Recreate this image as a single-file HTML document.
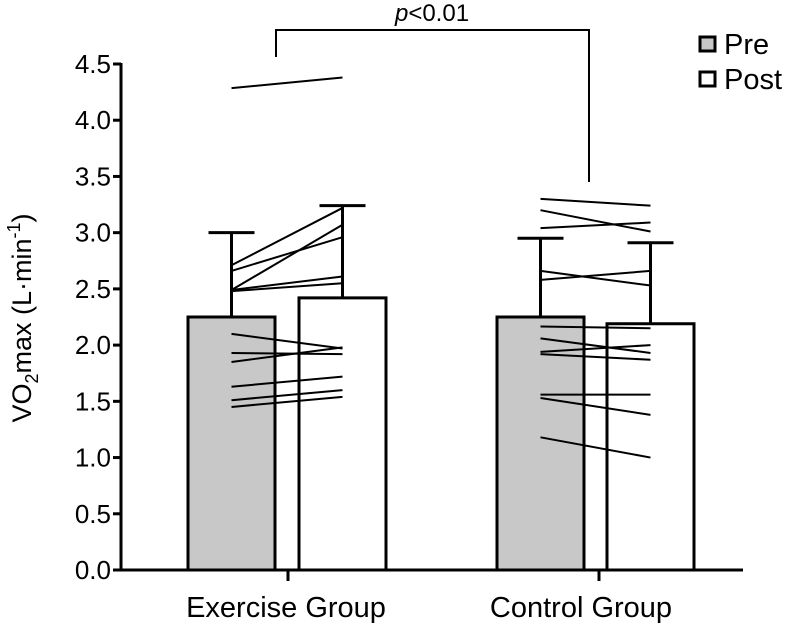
<!DOCTYPE html>
<html><head><meta charset="utf-8"><style>
body{margin:0;background:#fff}
svg{font-family:"Liberation Sans",Arial,sans-serif;display:block}
</style></head><body>
<svg id="chart" width="787" height="633" viewBox="0 0 787 633">
<g id="g"></g>
</svg>
<script>
const groups=["Exercise Group","Control Group"];
const preMeans=[2.25,2.25];
const postMeans=[2.42,2.19];
const preSD=[3.00,2.95];
const postSD=[3.24,2.91];
const exPre=[4.285,2.71,2.66,2.49,2.49,2.48,2.10,1.93,1.85,1.63,1.51,1.45];
const exPost=[4.38,3.22,2.96,3.07,2.61,2.55,1.97,1.92,1.98,1.72,1.60,1.54];
const ctPre=[3.30,3.20,3.04,2.66,2.58,2.165,2.06,1.94,1.92,1.56,1.53,1.18];
const ctPost=[3.24,3.01,3.09,2.53,2.66,2.15,1.93,2.00,1.87,1.56,1.38,1.00];
const yTicks=["0.0","0.5","1.0","1.5","2.0","2.5","3.0","3.5","4.0","4.5"];
const NS="http://www.w3.org/2000/svg";
const g=document.getElementById('g');
const y0=570,y1=64,ymax=4.5;
function Y(v){return y0-(v/ymax)*(y0-y1);}
const barW=87;
const preX=[188,497],postX=[299,607];
function mk(t,a,txt){const e=document.createElementNS(NS,t);for(const k in a)e.setAttribute(k,a[k]);if(txt!==undefined)e.textContent=txt;g.appendChild(e);return e;}
for(let i=0;i<2;i++){
 let b=mk('rect',{x:preX[i],y:Y(preMeans[i]),width:barW,height:y0-Y(preMeans[i]),fill:'#c8c8c8',stroke:'#000','stroke-width':3});
 
 
 let p=mk('rect',{x:postX[i],y:Y(postMeans[i]),width:barW,height:y0-Y(postMeans[i]),fill:'#fff',stroke:'#000','stroke-width':3});
 
 
 const cp=preX[i]+barW/2, cq=postX[i]+barW/2;
 let e1=mk('path',{d:`M${cp},${Y(preMeans[i])}V${Y(preSD[i])}M${cp-23},${Y(preSD[i])}H${cp+23}`,stroke:'#000','stroke-width':3,fill:'none'});
 
 
 let e2=mk('path',{d:`M${cq},${Y(postMeans[i])}V${Y(postSD[i])}M${cq-23},${Y(postSD[i])}H${cq+23}`,stroke:'#000','stroke-width':3,fill:'none'});
 
 
}
function lines(pre,post,i){
 const a=preX[i]+barW/2,b=postX[i]+barW/2;
 for(let k=0;k<pre.length;k++){
  let l=mk('line',{x1:a,y1:Y(pre[k]),x2:b,y2:Y(post[k]),stroke:'#000','stroke-width':2});
  
  
 }
}
lines(exPre,exPost,0);lines(ctPre,ctPost,1);
let ya=mk('path',{d:`M121,${y1-1}V${y0+1}`,stroke:'#000','stroke-width':3});


let xa=mk('path',{d:`M119,${y0}H743`,stroke:'#000','stroke-width':3});


for(let i=0;i<yTicks.length;i++){
 const v=parseFloat(yTicks[i]);
 mk('path',{d:`M113,${Y(v)}H121`,stroke:'#000','stroke-width':3});
 let t=mk('text',{x:111,y:Y(v)+9,'text-anchor':'end','font-size':26},yTicks[i]);
 
 
}
const gx=[286,581];
for(let i=0;i<2;i++){
 mk('path',{d:`M${[288,599][i]},${y0}V${y0+11}`,stroke:'#000','stroke-width':3});
 let t=mk('text',{x:gx[i],y:617,'text-anchor':'middle','font-size':29},groups[i]);
 
 
}
let br=mk('path',{d:'M276,57V30H589V182',stroke:'#000','stroke-width':2,fill:'none'});


let pt=mk('text',{x:432,y:21,'text-anchor':'middle','font-size':24});
pt.innerHTML='<tspan font-style="italic">p</tspan>&lt;0.01';


let lb1=mk('rect',{x:700,y:37,width:15,height:14,fill:'#c8c8c8',stroke:'#000','stroke-width':3});


let lt1=mk('text',{x:724,y:54,'font-size':29},'Pre');


let lb2=mk('rect',{x:700,y:72,width:15,height:14,fill:'#fff',stroke:'#000','stroke-width':3});


let lt2=mk('text',{x:724,y:89,'font-size':29},'Post');


let yt=mk('text',{x:0,y:0,'text-anchor':'middle','font-size':27,transform:'translate(31,318) rotate(-90)'});
yt.innerHTML='VO<tspan font-size="18" dy="7">2</tspan><tspan dy="-7">max (L·min</tspan><tspan font-size="18" dy="-11">-1</tspan><tspan dy="11">)</tspan>';


</script>
</body></html>
